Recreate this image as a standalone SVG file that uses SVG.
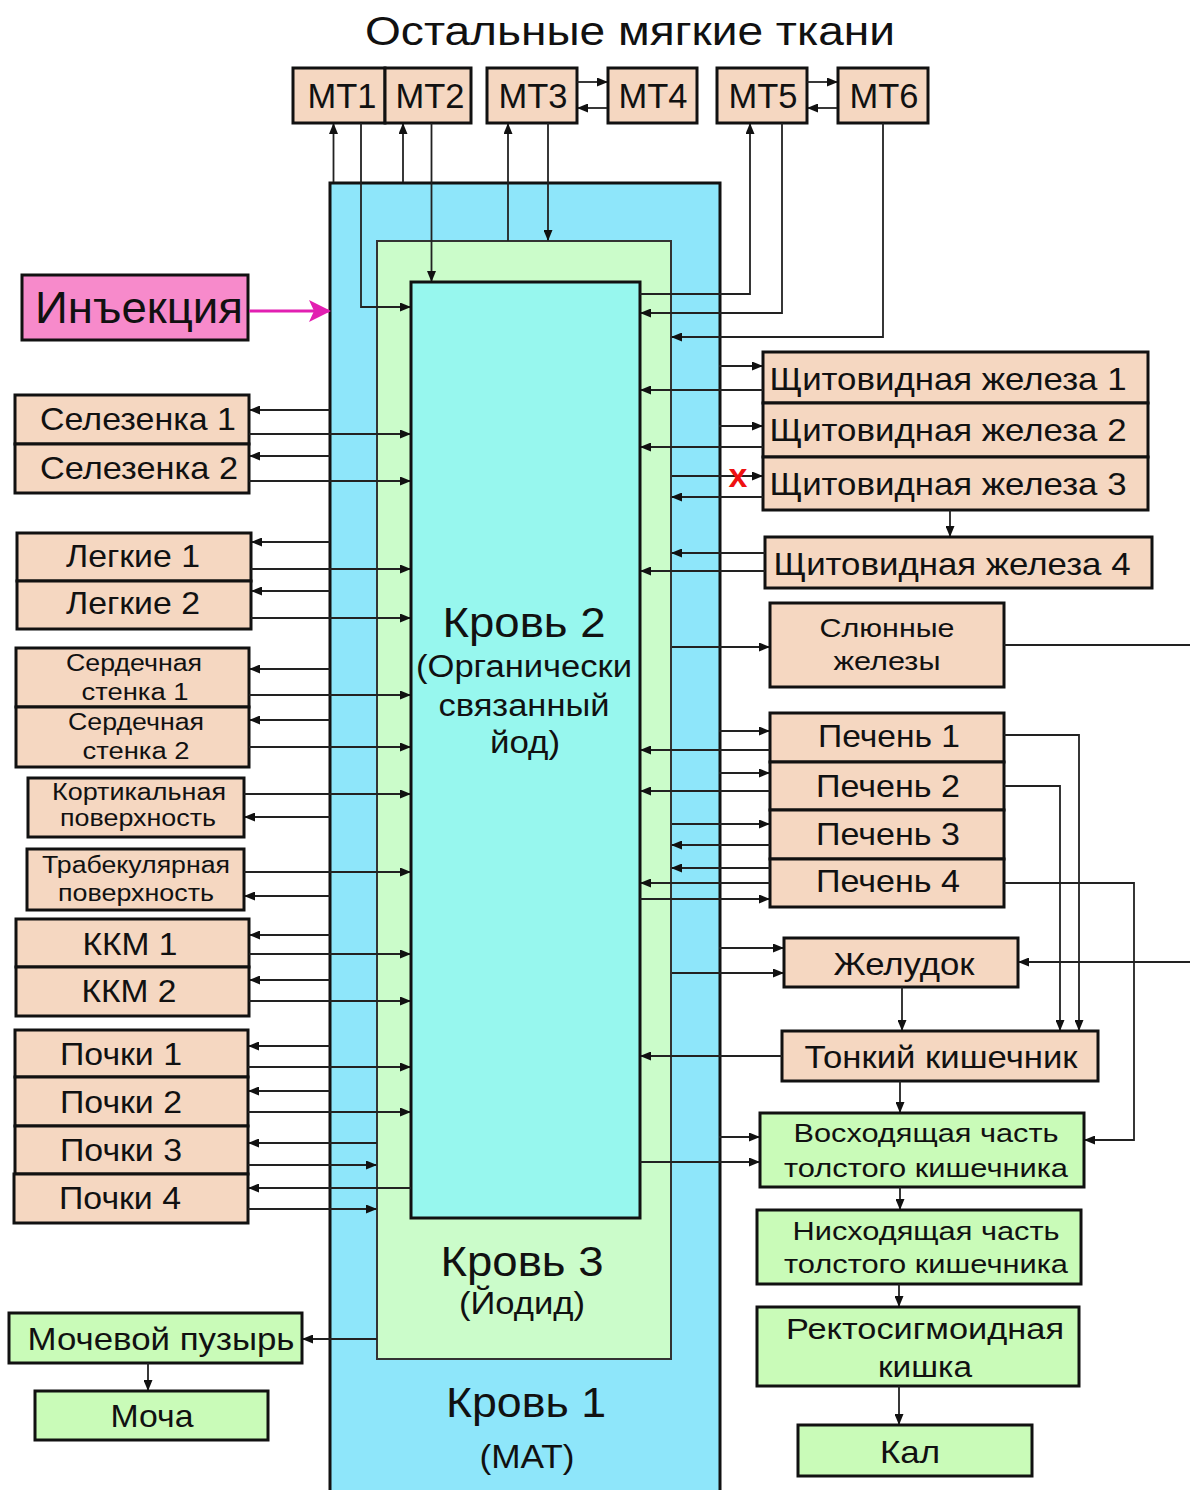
<svg xmlns="http://www.w3.org/2000/svg" width="1190" height="1490" viewBox="0 0 1190 1490">
<style>
text{font-family:"Liberation Sans",Arial,sans-serif;fill:#111;text-anchor:middle}
.box{fill:#f5d7c1;stroke:#111;stroke-width:3}
.gbox{fill:#c9fbb8;stroke:#111;stroke-width:3}
.c{fill:none;stroke:#222;stroke-width:1.8}
.t32{font-size:32px}
.t24{font-size:23px}
.t26{font-size:26px}
.t35{font-size:35px}
</style>
<defs>
<marker id="a" markerUnits="userSpaceOnUse" markerWidth="11" markerHeight="9" refX="10" refY="4.5" orient="auto"><path d="M0,0 L11,4.5 L0,9 Z" fill="#111"/></marker>
<marker id="m" markerUnits="userSpaceOnUse" markerWidth="22" markerHeight="22" refX="20" refY="11" orient="auto"><path d="M0,0 L22,11 L0,22 L5,11 Z" fill="#e21fb1"/></marker>
</defs>
<rect width="1190" height="1490" fill="#fff"/>
<g id="title"><text x="630" y="45" font-size="41" textLength="530" lengthAdjust="spacingAndGlyphs">Остальные мягкие ткани</text></g>
<g id="blood1"><rect x="330" y="183" width="390" height="1320" fill="#8ee6fa" stroke="#111" stroke-width="3"/>
<text x="526" y="1417" font-size="42" textLength="160" lengthAdjust="spacingAndGlyphs">Кровь 1</text>
<text x="527" y="1468" font-size="33" textLength="95" lengthAdjust="spacingAndGlyphs">(МАТ)</text></g>
<g id="blood3"><rect x="377" y="241" width="294" height="1118" fill="#cbfcca" stroke="#333" stroke-width="2"/>
<text x="522" y="1276" font-size="42" textLength="163" lengthAdjust="spacingAndGlyphs">Кровь 3</text>
<text x="522" y="1314" font-size="31" textLength="126" lengthAdjust="spacingAndGlyphs">(Йодид)</text></g>
<g id="blood2"><rect x="411" y="282" width="229" height="936" fill="#97f7ee" stroke="#111" stroke-width="3"/>
<text x="524" y="637" font-size="42" textLength="163" lengthAdjust="spacingAndGlyphs">Кровь 2</text>
<text x="524" y="677" font-size="31" textLength="216" lengthAdjust="spacingAndGlyphs">(Органически</text>
<text x="524" y="716" font-size="31" textLength="171" lengthAdjust="spacingAndGlyphs">связанный</text>
<text x="525" y="753" font-size="31" textLength="70" lengthAdjust="spacingAndGlyphs">йод)</text></g>
<g id="mt1"><rect class="box" x="293" y="68" width="92" height="55"/><text class="t35" x="342" y="108" textLength="69" lengthAdjust="spacingAndGlyphs">MT1</text></g>
<g id="mt2"><rect class="box" x="385" y="68" width="86" height="55"/><text class="t35" x="430" y="108" textLength="69" lengthAdjust="spacingAndGlyphs">MT2</text></g>
<g id="mt3"><rect class="box" x="487" y="68" width="90" height="55"/><text class="t35" x="533" y="108" textLength="69" lengthAdjust="spacingAndGlyphs">MT3</text></g>
<g id="mt4"><rect class="box" x="608" y="68" width="89" height="55"/><text class="t35" x="653" y="108" textLength="69" lengthAdjust="spacingAndGlyphs">MT4</text></g>
<g id="mt5"><rect class="box" x="717" y="68" width="90" height="55"/><text class="t35" x="763" y="108" textLength="69" lengthAdjust="spacingAndGlyphs">MT5</text></g>
<g id="mt6"><rect class="box" x="838" y="68" width="90" height="55"/><text class="t35" x="884" y="108" textLength="69" lengthAdjust="spacingAndGlyphs">MT6</text></g>
<g id="injection"><rect x="22" y="275" width="226" height="65" fill="#f78acb" stroke="#111" stroke-width="3"/><text x="139" y="323" font-size="44" textLength="208" lengthAdjust="spacingAndGlyphs">Инъекция</text></g>
<g id="spleen1"><rect class="box" x="15" y="395" width="234" height="49"/><text class="t32" x="138" y="430" textLength="196" lengthAdjust="spacingAndGlyphs">Селезенка 1</text></g>
<g id="spleen2"><rect class="box" x="15" y="444" width="234" height="49"/><text class="t32" x="139" y="479" textLength="198" lengthAdjust="spacingAndGlyphs">Селезенка 2</text></g>
<g id="lung1"><rect class="box" x="17" y="533" width="234" height="48"/><text class="t32" x="133" y="567" textLength="134" lengthAdjust="spacingAndGlyphs">Легкие 1</text></g>
<g id="lung2"><rect class="box" x="17" y="581" width="234" height="48"/><text class="t32" x="133" y="614" textLength="134" lengthAdjust="spacingAndGlyphs">Легкие 2</text></g>
<g id="heart1"><rect class="box" x="16" y="648" width="233" height="59"/><text class="t24" x="134" y="671" textLength="136" lengthAdjust="spacingAndGlyphs">Сердечная</text><text class="t24" x="135" y="700" textLength="107" lengthAdjust="spacingAndGlyphs">стенка 1</text></g>
<g id="heart2"><rect class="box" x="16" y="707" width="233" height="60"/><text class="t24" x="136" y="730" textLength="136" lengthAdjust="spacingAndGlyphs">Сердечная</text><text class="t24" x="136" y="759" textLength="107" lengthAdjust="spacingAndGlyphs">стенка 2</text></g>
<g id="cortical"><rect class="box" x="28" y="778" width="216" height="59"/><text class="t24" x="139" y="800" textLength="174" lengthAdjust="spacingAndGlyphs">Кортикальная</text><text class="t24" x="138" y="826" textLength="156" lengthAdjust="spacingAndGlyphs">поверхность</text></g>
<g id="trabecular"><rect class="box" x="27" y="849" width="217" height="61"/><text class="t24" x="136" y="873" textLength="188" lengthAdjust="spacingAndGlyphs">Трабекулярная</text><text class="t24" x="136" y="901" textLength="156" lengthAdjust="spacingAndGlyphs">поверхность</text></g>
<g id="kkm1"><rect class="box" x="16" y="919" width="233" height="48"/><text class="t32" x="130" y="955" textLength="95" lengthAdjust="spacingAndGlyphs">ККМ 1</text></g>
<g id="kkm2"><rect class="box" x="16" y="967" width="233" height="49"/><text class="t32" x="129" y="1002" textLength="95" lengthAdjust="spacingAndGlyphs">ККМ 2</text></g>
<g id="kidney1"><rect class="box" x="15" y="1030" width="233" height="47"/><text class="t32" x="121" y="1065" textLength="122" lengthAdjust="spacingAndGlyphs">Почки 1</text></g>
<g id="kidney2"><rect class="box" x="15" y="1077" width="233" height="49"/><text class="t32" x="121" y="1113" textLength="122" lengthAdjust="spacingAndGlyphs">Почки 2</text></g>
<g id="kidney3"><rect class="box" x="15" y="1126" width="233" height="48"/><text class="t32" x="121" y="1161" textLength="122" lengthAdjust="spacingAndGlyphs">Почки 3</text></g>
<g id="kidney4"><rect class="box" x="14" y="1174" width="234" height="49"/><text class="t32" x="120" y="1209" textLength="122" lengthAdjust="spacingAndGlyphs">Почки 4</text></g>
<g id="bladder"><rect class="gbox" x="9" y="1313" width="293" height="50"/><text class="t32" x="161" y="1350" textLength="267" lengthAdjust="spacingAndGlyphs">Мочевой пузырь</text></g>
<g id="urine"><rect class="gbox" x="35" y="1391" width="233" height="49"/><text class="t32" x="152" y="1427" textLength="83" lengthAdjust="spacingAndGlyphs">Моча</text></g>
<g id="thyroid1"><rect class="box" x="763" y="352" width="385" height="51"/><text class="t32" x="948" y="390" textLength="357" lengthAdjust="spacingAndGlyphs">Щитовидная железа 1</text></g>
<g id="thyroid2"><rect class="box" x="763" y="403" width="385" height="54"/><text class="t32" x="948" y="441" textLength="357" lengthAdjust="spacingAndGlyphs">Щитовидная железа 2</text></g>
<g id="thyroid3"><rect class="box" x="763" y="457" width="385" height="53"/><text class="t32" x="948" y="495" textLength="357" lengthAdjust="spacingAndGlyphs">Щитовидная железа 3</text></g>
<g id="thyroid4"><rect class="box" x="765" y="537" width="387" height="51"/><text class="t32" x="952" y="575" textLength="357" lengthAdjust="spacingAndGlyphs">Щитовидная железа 4</text></g>
<g id="salivary"><rect class="box" x="770" y="603" width="234" height="84"/><text class="t26" x="887" y="637" textLength="135" lengthAdjust="spacingAndGlyphs">Слюнные</text><text class="t26" x="887" y="670" textLength="107" lengthAdjust="spacingAndGlyphs">железы</text></g>
<g id="liver1"><rect class="box" x="770" y="713" width="234" height="49"/><text class="t32" x="889" y="747" textLength="142" lengthAdjust="spacingAndGlyphs">Печень 1</text></g>
<g id="liver2"><rect class="box" x="770" y="762" width="234" height="48"/><text class="t32" x="888" y="797" textLength="144" lengthAdjust="spacingAndGlyphs">Печень 2</text></g>
<g id="liver3"><rect class="box" x="770" y="810" width="234" height="49"/><text class="t32" x="888" y="845" textLength="144" lengthAdjust="spacingAndGlyphs">Печень 3</text></g>
<g id="liver4"><rect class="box" x="770" y="859" width="234" height="48"/><text class="t32" x="888" y="892" textLength="144" lengthAdjust="spacingAndGlyphs">Печень 4</text></g>
<g id="stomach"><rect class="box" x="784" y="938" width="234" height="49"/><text class="t32" x="904" y="975" textLength="141" lengthAdjust="spacingAndGlyphs">Желудок</text></g>
<g id="smallint"><rect class="box" x="782" y="1031" width="316" height="50"/><text class="t32" x="941" y="1068" textLength="273" lengthAdjust="spacingAndGlyphs">Тонкий кишечник</text></g>
<g id="ascending"><rect class="gbox" x="760" y="1113" width="324" height="74"/><text class="t26" x="926" y="1142" textLength="265" lengthAdjust="spacingAndGlyphs">Восходящая часть</text><text class="t26" x="926" y="1177" textLength="284" lengthAdjust="spacingAndGlyphs">толстого кишечника</text></g>
<g id="descending"><rect class="gbox" x="757" y="1210" width="324" height="74"/><text class="t26" x="926" y="1240" textLength="267" lengthAdjust="spacingAndGlyphs">Нисходящая часть</text><text class="t26" x="926" y="1273" textLength="284" lengthAdjust="spacingAndGlyphs">толстого кишечника</text></g>
<g id="rectosigmoid"><rect class="gbox" x="757" y="1307" width="322" height="79"/><text x="925" y="1339" font-size="29" textLength="278" lengthAdjust="spacingAndGlyphs">Ректосигмоидная</text><text x="925" y="1377" font-size="29" textLength="94" lengthAdjust="spacingAndGlyphs">кишка</text></g>
<g id="feces"><rect class="gbox" x="798" y="1425" width="234" height="51"/><text class="t32" x="910" y="1463" textLength="60" lengthAdjust="spacingAndGlyphs">Кал</text></g>
<g id="connectors">
<path class="c" marker-end="url(#a)" d="M333.5,182 V124"/>
<path class="c" marker-end="url(#a)" d="M361,123 V307 H410"/>
<path class="c" marker-end="url(#a)" d="M403,182 V124"/>
<path class="c" marker-end="url(#a)" d="M431.5,123 V281"/>
<path class="c" marker-end="url(#a)" d="M508,241 V124"/>
<path class="c" marker-end="url(#a)" d="M548,123 V240"/>
<path class="c" marker-end="url(#a)" d="M577,82 H607"/>
<path class="c" marker-end="url(#a)" d="M607,108 H578"/>
<path class="c" marker-end="url(#a)" d="M807,82 H837"/>
<path class="c" marker-end="url(#a)" d="M837,108 H808"/>
<path class="c" marker-end="url(#a)" d="M640,294 H750 V124"/>
<path class="c" marker-end="url(#a)" d="M782,123 V313 H641"/>
<path class="c" marker-end="url(#a)" d="M883,123 V337 H672"/>
<path fill="none" stroke="#e21fb1" stroke-width="3" marker-end="url(#m)" d="M249,311 H329"/>
<path class="c" marker-end="url(#a)" d="M330,410 H250"/>
<path class="c" marker-end="url(#a)" d="M249,434 H410"/>
<path class="c" marker-end="url(#a)" d="M330,456 H250"/>
<path class="c" marker-end="url(#a)" d="M249,481 H410"/>
<path class="c" marker-end="url(#a)" d="M330,542 H252"/>
<path class="c" marker-end="url(#a)" d="M251,569 H410"/>
<path class="c" marker-end="url(#a)" d="M330,591 H252"/>
<path class="c" marker-end="url(#a)" d="M251,618 H410"/>
<path class="c" marker-end="url(#a)" d="M330,669 H250"/>
<path class="c" marker-end="url(#a)" d="M249,695 H410"/>
<path class="c" marker-end="url(#a)" d="M330,720 H250"/>
<path class="c" marker-end="url(#a)" d="M249,747 H410"/>
<path class="c" marker-end="url(#a)" d="M244,794 H410"/>
<path class="c" marker-end="url(#a)" d="M330,817 H245"/>
<path class="c" marker-end="url(#a)" d="M244,872 H410"/>
<path class="c" marker-end="url(#a)" d="M330,896 H245"/>
<path class="c" marker-end="url(#a)" d="M330,935 H250"/>
<path class="c" marker-end="url(#a)" d="M249,954 H410"/>
<path class="c" marker-end="url(#a)" d="M330,980 H250"/>
<path class="c" marker-end="url(#a)" d="M249,1001 H410"/>
<path class="c" marker-end="url(#a)" d="M330,1046 H249"/>
<path class="c" marker-end="url(#a)" d="M248,1067 H410"/>
<path class="c" marker-end="url(#a)" d="M330,1091 H249"/>
<path class="c" marker-end="url(#a)" d="M248,1112 H410"/>
<path class="c" marker-end="url(#a)" d="M377,1143 H249"/>
<path class="c" marker-end="url(#a)" d="M248,1165 H376"/>
<path class="c" marker-end="url(#a)" d="M411,1188 H249"/>
<path class="c" marker-end="url(#a)" d="M248,1209 H376"/>
<path class="c" marker-end="url(#a)" d="M377,1339 H303"/>
<path class="c" marker-end="url(#a)" d="M148,1363 V1390"/>
<path class="c" marker-end="url(#a)" d="M719,366 H762"/>
<path class="c" marker-end="url(#a)" d="M763,390 H641"/>
<path class="c" marker-end="url(#a)" d="M719,426 H762"/>
<path class="c" marker-end="url(#a)" d="M763,447 H641"/>
<path class="c" marker-end="url(#a)" d="M672,476 H762"/>
<path class="c" marker-end="url(#a)" d="M763,497 H672"/>
<path class="c" marker-end="url(#a)" d="M950,510 V536"/>
<path class="c" marker-end="url(#a)" d="M765,553 H672"/>
<path class="c" marker-end="url(#a)" d="M765,571 H641"/>
<path class="c" marker-end="url(#a)" d="M672,647 H769"/>
<path class="c" d="M1004,645 H1190"/>
<path class="c" marker-end="url(#a)" d="M719,731 H769"/>
<path class="c" marker-end="url(#a)" d="M770,750 H641"/>
<path class="c" marker-end="url(#a)" d="M1004,735 H1079 V1030"/>
<path class="c" marker-end="url(#a)" d="M719,773 H769"/>
<path class="c" marker-end="url(#a)" d="M770,791 H641"/>
<path class="c" marker-end="url(#a)" d="M1004,786 H1060 V1030"/>
<path class="c" marker-end="url(#a)" d="M672,824 H769"/>
<path class="c" marker-end="url(#a)" d="M770,845 H672"/>
<path class="c" marker-end="url(#a)" d="M770,868 H672"/>
<path class="c" marker-end="url(#a)" d="M770,883 H641"/>
<path class="c" marker-end="url(#a)" d="M640,899 H769"/>
<path class="c" marker-end="url(#a)" d="M1004,883 H1134 V1140 H1085"/>
<path class="c" marker-end="url(#a)" d="M719,948 H783"/>
<path class="c" marker-end="url(#a)" d="M672,973 H783"/>
<path class="c" marker-end="url(#a)" d="M1190,962 H1019"/>
<path class="c" marker-end="url(#a)" d="M902,987 V1030"/>
<path class="c" marker-end="url(#a)" d="M782,1056 H641"/>
<path class="c" marker-end="url(#a)" d="M900,1081 V1112"/>
<path class="c" marker-end="url(#a)" d="M719,1137 H759"/>
<path class="c" marker-end="url(#a)" d="M640,1162 H759"/>
<path class="c" marker-end="url(#a)" d="M900,1187 V1209"/>
<path class="c" marker-end="url(#a)" d="M899,1284 V1306"/>
<path class="c" marker-end="url(#a)" d="M899,1386 V1424"/>
<text x="738" y="487" font-size="34" font-weight="bold" style="fill:#ee1111">x</text>
</g>
</svg>
